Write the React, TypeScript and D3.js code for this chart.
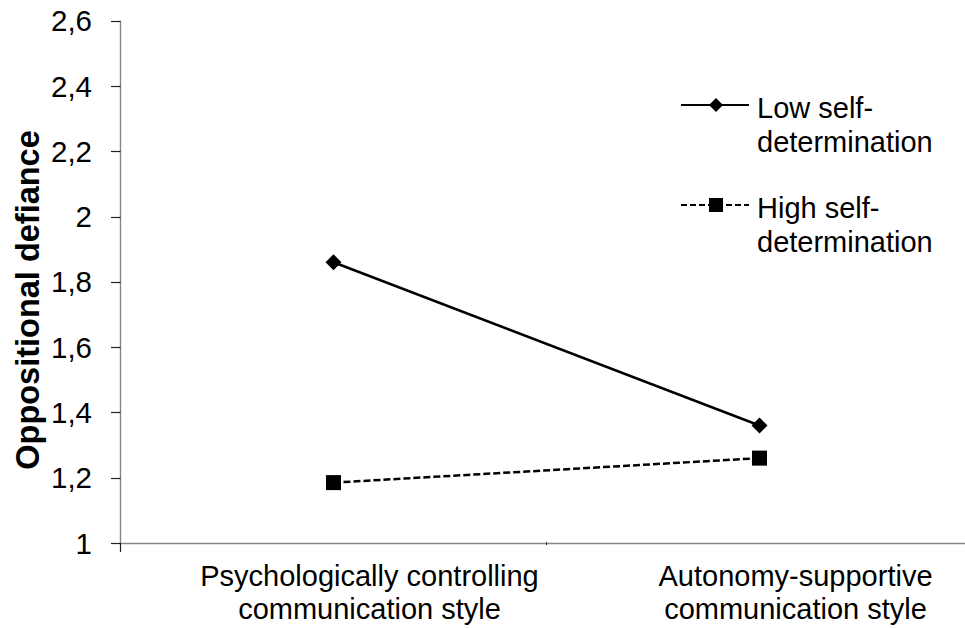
import { useEffect, useRef } from "react";
import * as d3 from "d3";

const categories = [
  ["Psychologically controlling", "communication style"],
  ["Autonomy-supportive", "communication style"],
];
const lowSelfDetermination = [1.86, 1.36];
const highSelfDetermination = [1.185, 1.26];
const yTicks = [1, 1.2, 1.4, 1.6, 1.8, 2, 2.2, 2.4, 2.6];
const seriesNames = [
  ["Low self-", "determination"],
  ["High self-", "determination"],
];

const W = 965;
const H = 628;
const FONT = "'Liberation Sans', Arial, sans-serif";

export default function App() {
  const svgRef = useRef<SVGSVGElement>(null);

  useEffect(() => {
    const svg = d3.select(svgRef.current);
    svg.selectAll("*").remove();

    const keys = categories.map((c) => c.join(" "));
    const x = d3.scaleBand().domain(keys).range([120.5, 972.5]);
    const y = d3.scaleLinear().domain([1, 2.6]).range([543, 20.7]);
    const cx = (i: number) => x(keys[i])! + x.bandwidth() / 2;

    // y axis
    svg
      .append("line")
      .attr("x1", 120.5)
      .attr("x2", 120.5)
      .attr("y1", y(2.6))
      .attr("y2", y(1))
      .attr("stroke", "#868686")
      .attr("stroke-width", 1.4);
    yTicks.forEach((t) => {
      svg
        .append("line")
        .attr("x1", 111)
        .attr("x2", 120.5)
        .attr("y1", Math.round(y(t)) + 0.5)
        .attr("y2", Math.round(y(t)) + 0.5)
        .attr("stroke", "#222")
        .attr("stroke-width", 1.2);
      svg
        .append("text")
        .attr("x", 92)
        .attr("y", y(t))
        .attr("dy", "0.36em")
        .attr("text-anchor", "end")
        .attr("font-family", FONT)
        .attr("font-size", 29.5)
        .attr("fill", "#000")
        .text(String(t).replace(".", ","));
    });

    // x axis
    svg
      .append("line")
      .attr("x1", 120.5)
      .attr("x2", 972.5)
      .attr("y1", y(1) + 0.5)
      .attr("y2", y(1) + 0.5)
      .attr("stroke", "#868686")
      .attr("stroke-width", 1.4);
    svg
      .append("line")
      .attr("x1", 120.5)
      .attr("x2", 120.5)
      .attr("y1", y(1))
      .attr("y2", y(1) + 9)
      .attr("stroke", "#222")
      .attr("stroke-width", 1.2);
    svg
      .append("line")
      .attr("x1", x(keys[1])!)
      .attr("x2", x(keys[1])!)
      .attr("y1", y(1) - 1)
      .attr("y2", y(1) + 2)
      .attr("stroke", "#333");

    categories.forEach((lines, i) => {
      const t = svg
        .append("text")
        .attr("text-anchor", "middle")
        .attr("font-family", FONT)
        .attr("font-size", 29)
        .attr("fill", "#000");
      lines.forEach((ln, j) =>
        t
          .append("tspan")
          .attr("x", cx(i) + 36)
          .attr("y", 586 + j * 33)
          .text(ln)
      );
    });

    // y title
    svg
      .append("text")
      .attr("transform", "translate(39,300) rotate(-90)")
      .attr("text-anchor", "middle")
      .attr("font-family", FONT)
      .attr("font-weight", "bold")
      .attr("font-size", 32.5)
      .attr("fill", "#000")
      .text("Oppositional defiance");

    const line = d3
      .line<number>()
      .x((_, i) => cx(i))
      .y((d) => y(d));

    svg
      .append("path")
      .attr("d", line(lowSelfDetermination))
      .attr("fill", "none")
      .attr("stroke", "#000")
      .attr("stroke-width", 2.5);
    svg
      .append("path")
      .attr("d", line(highSelfDetermination))
      .attr("fill", "none")
      .attr("stroke", "#000")
      .attr("stroke-width", 2.5)
      .attr("stroke-dasharray", "7,3");

    const diamond = (px: number, py: number, r: number) =>
      `M${px},${py - r}L${px + r},${py}L${px},${py + r}L${px - r},${py}Z`;

    lowSelfDetermination.forEach((v, i) =>
      svg.append("path").attr("d", diamond(cx(i), y(v), 8)).attr("fill", "#000")
    );
    highSelfDetermination.forEach((v, i) =>
      svg
        .append("rect")
        .attr("x", cx(i) - 7.5)
        .attr("y", y(v) - 7.5)
        .attr("width", 15)
        .attr("height", 15)
        .attr("fill", "#000")
    );

    // legend
    const legY = [105, 205];
    seriesNames.forEach((names, i) => {
      const g = svg.append("g");
      g.append("line")
        .attr("x1", 681)
        .attr("x2", 749)
        .attr("y1", legY[i])
        .attr("y2", legY[i])
        .attr("stroke", "#000")
        .attr("stroke-width", 2.2)
        .attr("stroke-dasharray", i === 1 ? "6,3" : null);
      if (i === 0) {
        g.append("path").attr("d", diamond(716, legY[i], 7)).attr("fill", "#000");
      } else {
        g.append("rect")
          .attr("x", 709)
          .attr("y", legY[i] - 7)
          .attr("width", 14)
          .attr("height", 14)
          .attr("fill", "#000");
      }
      const t = g
        .append("text")
        .attr("font-family", FONT)
        .attr("font-size", 29)
        .attr("fill", "#000");
      names.forEach((n, j) =>
        t
          .append("tspan")
          .attr("x", 757)
          .attr("y", legY[i] + 13 + j * 34)
          .text(n)
      );
    });
  }, []);

  return (
    <svg
      ref={svgRef}
      width={W}
      height={H}
      style={{ position: "absolute", left: 0, top: 0, background: "#fff" }}
    />
  );
}
